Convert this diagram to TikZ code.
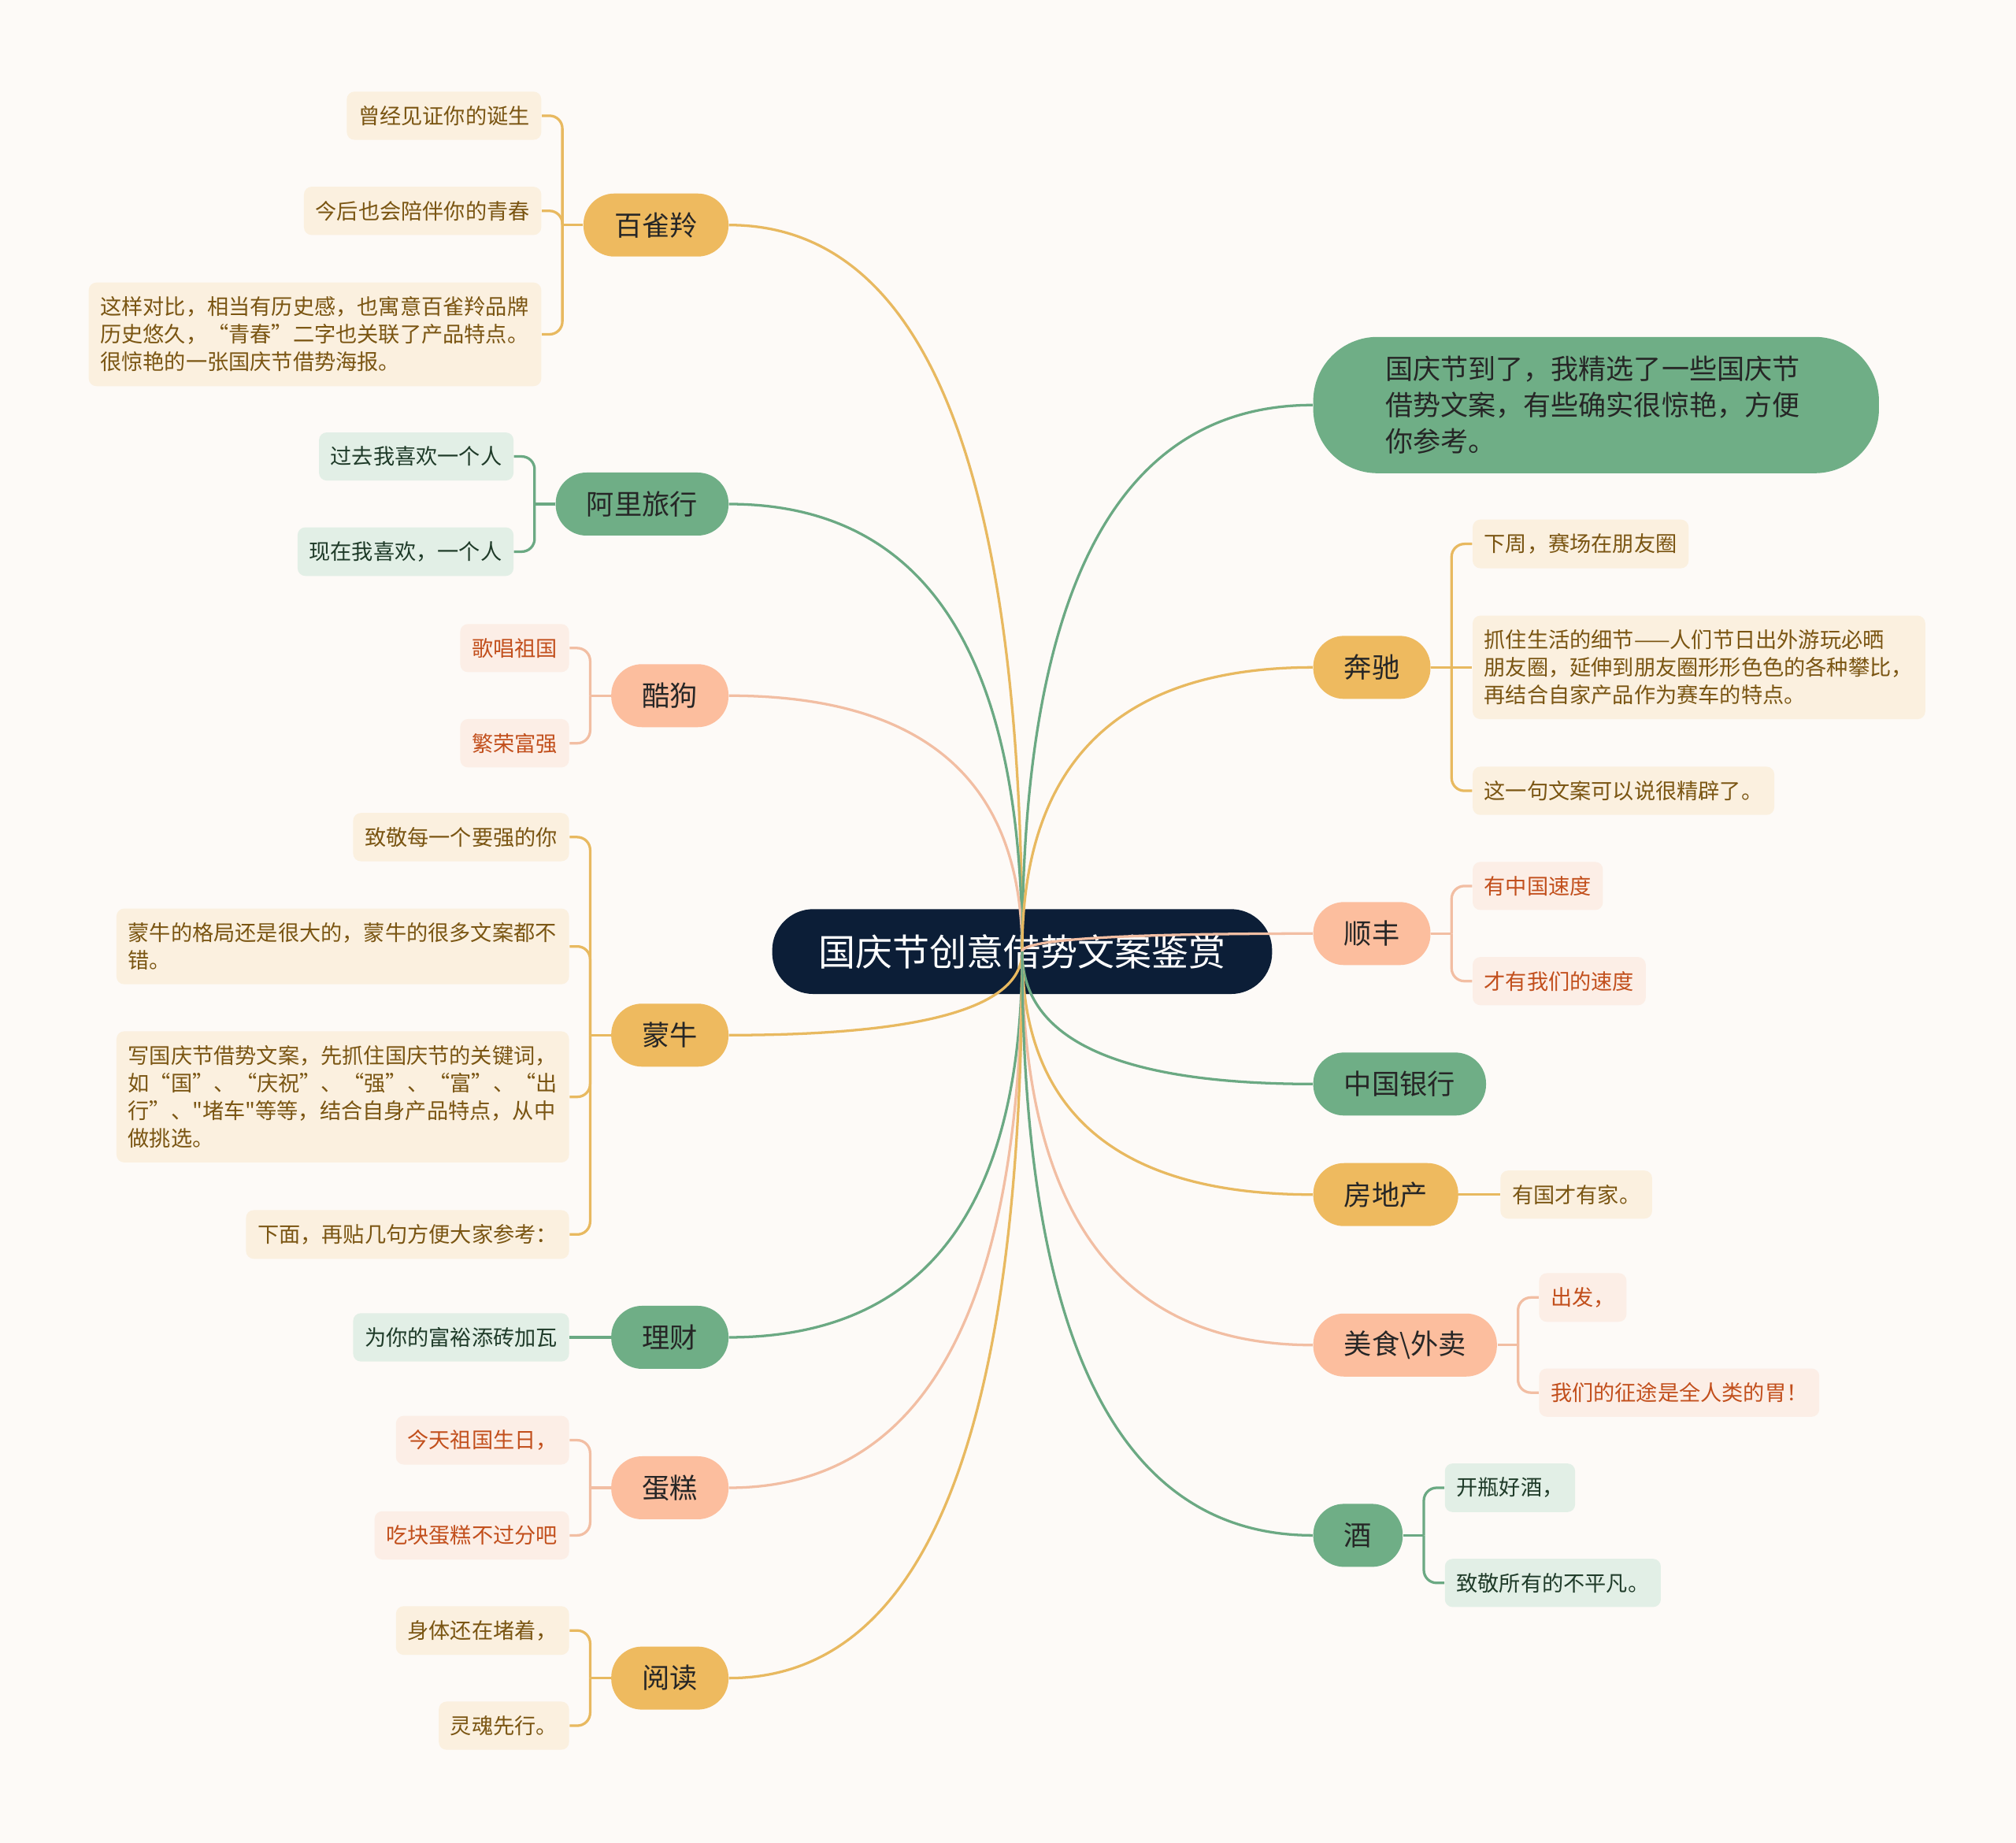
\documentclass[tikz,border=0pt]{standalone}
\usepackage{fontspec}
\setmainfont{Noto Sans CJK SC}
\newfontfamily\cjkfont{Noto Sans CJK SC}
\usepackage{xcolor}
\usepackage{tikz}
\usetikzlibrary{positioning,calc}
\definecolor{cBg}{HTML}{FDFAF7}
\definecolor{cRoot}{HTML}{0C1E37}
\definecolor{cGold}{HTML}{EEBA5F}
\definecolor{cGreen}{HTML}{6FAE86}
\definecolor{cPeach}{HTML}{FCBE9E}
\definecolor{cGoldLeaf}{HTML}{FBF0DF}
\definecolor{cGreenLeaf}{HTML}{E2EFE6}
\definecolor{cPeachLeaf}{HTML}{FCEEE6}
\definecolor{cGoldText}{HTML}{7A5512}
\definecolor{cGreenText}{HTML}{1F3B29}
\definecolor{cPeachText}{HTML}{C24F1C}
\definecolor{cGoldLine}{HTML}{E8B960}
\definecolor{cGreenLine}{HTML}{6BA983}
\definecolor{cPeachLine}{HTML}{F2BEA3}

\begin{document}
\begin{tikzpicture}[
    x=0.5pt, y=-0.5pt,
    node distance=16pt,
    topic/.style={rounded corners=12pt, minimum height=24.5pt, inner xsep=12pt,
                  font=\cjkfont\fontsize{10.8pt}{13pt}\selectfont, text=black!85},
    gtopic/.style={topic, fill=cGold},
    ntopic/.style={topic, fill=cGreen},
    ptopic/.style={topic, fill=cPeach},
    leaf/.style={rounded corners=3pt, minimum height=18pt, inner xsep=4.5pt,
                 inner ysep=5.5pt, font=\cjkfont\fontsize{8.33pt}{10.75pt}\selectfont},
    gleaf/.style={leaf, fill=cGoldLeaf, text=cGoldText},
    nleaf/.style={leaf, fill=cGreenLeaf, text=cGreenText},
    pleaf/.style={leaf, fill=cPeachLeaf, text=cPeachText},
    wide/.style={text width=167pt, align=left},
    gline/.style={draw=cGoldLine, line width=1pt},
    nline/.style={draw=cGreenLine, line width=1pt},
    pline/.style={draw=cPeachLine, line width=1pt},
    elbow/.style={rounded corners=5pt},
    branch/.style={to path={.. controls ($(\tikztostart)!0.667!(\tikztostart|-\tikztotarget)$)
                   and ($(\tikztotarget)!0.667!(\tikztostart|-\tikztotarget)$) .. (\tikztotarget)}}
]

\fill[cBg] (0,0) rectangle (1568,1433);

% --- root ---
\node[fill=cRoot, text=white, rounded corners=16pt, minimum height=33pt, inner xsep=18pt,
      font=\cjkfont\fontsize{14.4pt}{17pt}\selectfont] (root) at (795,740) {国庆节创意借势文案鉴赏};

% --- left topics ---
\node[gtopic, anchor=east] (bql) at (567,175) {百雀羚};
\node[ntopic, anchor=east] (ali) at (567,392) {阿里旅行};
\node[ptopic, anchor=east] (kugou) at (567,541) {酷狗};
\node[gtopic, anchor=east] (mengniu) at (567,805) {蒙牛};
\node[ntopic, anchor=east] (licai) at (567,1040) {理财};
\node[ptopic, anchor=east] (dangao) at (567,1157) {蛋糕};
\node[gtopic, anchor=east] (yuedu) at (567,1305) {阅读};

% --- right topics ---
\node[ntopic, anchor=west, rounded corners=25pt, minimum height=53pt, inner xsep=28pt,
      text width=164pt, align=left, font=\cjkfont\fontsize{10.75pt}{14pt}\selectfont] (intro) at (1021,315)
  {国庆节到了，我精选了一些国庆节\\借势文案，有些确实很惊艳，方便\\你参考。};
\node[gtopic, anchor=west] (benchi) at (1021,519) {奔驰};
\node[ptopic, anchor=west] (shunfeng) at (1021,726) {顺丰};
\node[ntopic, anchor=west] (boc) at (1021,843) {中国银行};
\node[gtopic, anchor=west] (fdc) at (1021,929) {房地产};
\node[ptopic, anchor=west] (meishi) at (1021,1046) {美食\textbackslash 外卖};
\node[ntopic, anchor=west] (jiu) at (1021,1194) {酒};

% --- left leaves ---
\node[gleaf, left=of bql, yshift=42.5pt] (bql1) {曾经见证你的诞生};
\node[gleaf, left=of bql, yshift=5.5pt] (bql2) {今后也会陪伴你的青春};
\node[gleaf, wide, left=of bql, yshift=-42.5pt] (bql3)
  {这样对比，相当有历史感，也寓意百雀羚品牌\\历史悠久，“青春”二字也关联了产品特点。\\很惊艳的一张国庆节借势海报。};

\node[nleaf, left=of ali, yshift=18.5pt] (ali1) {过去我喜欢一个人};
\node[nleaf, left=of ali, yshift=-18.5pt] (ali2) {现在我喜欢，一个人};

\node[pleaf, left=of kugou, yshift=18.5pt] (kugou1) {歌唱祖国};
\node[pleaf, left=of kugou, yshift=-18.5pt] (kugou2) {繁荣富强};

\node[gleaf, left=of mengniu, yshift=77pt] (mn1) {致敬每一个要强的你};
\node[gleaf, wide, left=of mengniu, yshift=34.5pt] (mn2)
  {蒙牛的格局还是很大的，蒙牛的很多文案都不\\错。};
\node[gleaf, wide, left=of mengniu, yshift=-24pt] (mn3)
  {写国庆节借势文案，先抓住国庆节的关键词，\\
   \makebox[167pt][s]{如\hfill“国”\hfill、\hfill“庆祝”\hfill、\hfill“强”\hfill、\hfill“富”\hfill、\hfill“出}\\
   行”、"堵车"等等，结合自身产品特点，从中\\做挑选。};
\node[gleaf, left=of mengniu, yshift=-77.5pt] (mn4) {下面，再贴几句方便大家参考：};

\node[nleaf, left=of licai] (licai1) {为你的富裕添砖加瓦};

\node[pleaf, left=of dangao, yshift=18.5pt] (dg1) {今天祖国生日，};
\node[pleaf, left=of dangao, yshift=-18.5pt] (dg2) {吃块蛋糕不过分吧};

\node[gleaf, left=of yuedu, yshift=18.5pt] (yd1) {身体还在堵着，};
\node[gleaf, left=of yuedu, yshift=-18.5pt] (yd2) {灵魂先行。};

% --- right leaves ---
\node[gleaf, right=of benchi, yshift=48pt] (bc1) {下周，赛场在朋友圈};
\node[gleaf, wide, right=of benchi] (bc2)
  {抓住生活的细节——人们节日出外游玩必晒\\朋友圈，延伸到朋友圈形形色色的各种攀比，\\再结合自家产品作为赛车的特点。};
\node[gleaf, right=of benchi, yshift=-48pt] (bc3) {这一句文案可以说很精辟了。};

\node[pleaf, right=of shunfeng, yshift=18.5pt] (sf1) {有中国速度};
\node[pleaf, right=of shunfeng, yshift=-18.5pt] (sf2) {才有我们的速度};

\node[gleaf, right=of fdc] (fdc1) {有国才有家。};

\node[pleaf, right=of meishi, yshift=18.5pt] (ms1) {出发，};
\node[pleaf, right=of meishi, yshift=-18.5pt] (ms2) {我们的征途是全人类的胃！};

\node[nleaf, right=of jiu, yshift=18.5pt] (jiu1) {开瓶好酒，};
\node[nleaf, right=of jiu, yshift=-18.5pt] (jiu2) {致敬所有的不平凡。};

% --- root to topics ---
\draw[gline] (root.center) to[branch] (bql.east);
\draw[nline] (root.center) to[branch] (ali.east);
\draw[pline] (root.center) to[branch] (kugou.east);
\draw[gline] (root.center) to[branch] (mengniu.east);
\draw[nline] (root.center) to[branch] (licai.east);
\draw[pline] (root.center) to[branch] (dangao.east);
\draw[gline] (root.center) to[branch] (yuedu.east);
\draw[nline] (root.center) to[branch] (intro.west);
\draw[gline] (root.center) to[branch] (benchi.west);
\draw[pline] (root.center) to[branch] (shunfeng.west);
\draw[nline] (root.center) to[branch] (boc.west);
\draw[gline] (root.center) to[branch] (fdc.west);
\draw[pline] (root.center) to[branch] (meishi.west);
\draw[nline] (root.center) to[branch] (jiu.west);

% --- topics to leaves ---
\draw[gline] (bql.west) -- ++(-8pt,0) coordinate (bqlj);
\draw[gline, elbow] (bqlj) |- (bql1.east);
\draw[gline, elbow] (bqlj) |- (bql2.east);
\draw[gline, elbow] (bqlj) |- (bql3.east);

\draw[nline] (ali.west) -- ++(-8pt,0) coordinate (alij);
\draw[nline, elbow] (alij) |- (ali1.east);
\draw[nline, elbow] (alij) |- (ali2.east);

\draw[pline] (kugou.west) -- ++(-8pt,0) coordinate (kugouj);
\draw[pline, elbow] (kugouj) |- (kugou1.east);
\draw[pline, elbow] (kugouj) |- (kugou2.east);

\draw[gline] (mengniu.west) -- ++(-8pt,0) coordinate (mnj);
\draw[gline, elbow] (mnj) |- (mn1.east);
\draw[gline, elbow] (mnj) |- (mn2.east);
\draw[gline, elbow] (mnj) |- (mn3.east);
\draw[gline, elbow] (mnj) |- (mn4.east);

\draw[nline] (licai) -- (licai1);

\draw[pline] (dangao.west) -- ++(-8pt,0) coordinate (dgj);
\draw[pline, elbow] (dgj) |- (dg1.east);
\draw[pline, elbow] (dgj) |- (dg2.east);

\draw[gline] (yuedu.west) -- ++(-8pt,0) coordinate (ydj);
\draw[gline, elbow] (ydj) |- (yd1.east);
\draw[gline, elbow] (ydj) |- (yd2.east);

\draw[gline] (benchi.east) -- ++(8pt,0) coordinate (bcj);
\draw[gline, elbow] (bcj) |- (bc1.west);
\draw[gline] (bcj) -- (bc2.west);
\draw[gline, elbow] (bcj) |- (bc3.west);

\draw[pline] (shunfeng.east) -- ++(8pt,0) coordinate (sfj);
\draw[pline, elbow] (sfj) |- (sf1.west);
\draw[pline, elbow] (sfj) |- (sf2.west);

\draw[gline] (fdc) -- (fdc1);

\draw[pline] (meishi.east) -- ++(8pt,0) coordinate (msj);
\draw[pline, elbow] (msj) |- (ms1.west);
\draw[pline, elbow] (msj) |- (ms2.west);

\draw[nline] (jiu.east) -- ++(8pt,0) coordinate (jiuj);
\draw[nline, elbow] (jiuj) |- (jiu1.west);
\draw[nline, elbow] (jiuj) |- (jiu2.west);

\end{tikzpicture}
\end{document}
